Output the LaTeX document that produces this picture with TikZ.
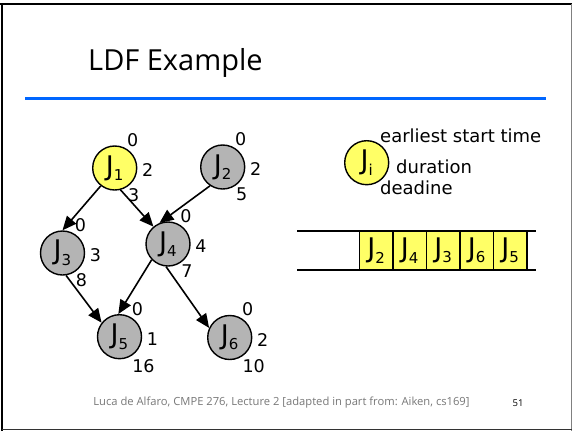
\documentclass[tikz,border=0pt]{standalone}
\usepackage{fontspec}
\setmainfont{DejaVu Sans}
\newfontfamily\headfont{Open Sans}
\usetikzlibrary{arrows.meta,calc}
\definecolor{jobyellow}{RGB}{255,255,102}
\definecolor{jobgray}{RGB}{180,180,180}
\definecolor{titlerule}{RGB}{0,102,255}
\definecolor{footgray}{RGB}{120,120,120}
\newcommand{\jsub}[1]{J\raisebox{-5.5pt}{\fontsize{15}{15}\selectfont #1}}

\begin{document}
\begin{tikzpicture}[x=1pt,y=-1pt,
  job/.style={circle,draw,line width=1.4pt,minimum size=44pt,inner sep=0pt,
    fill=jobgray,font=\fontsize{27}{27}\selectfont},
  num/.style={font=\fontsize{17.5}{17.5}\selectfont,inner sep=0pt},
  legend/.style={font=\fontsize{18}{18}\selectfont,inner sep=0pt,anchor=west},
  dep/.style={-{Triangle[length=14pt,width=12pt]},line width=1.6pt},
  slot/.style={rectangle,draw,line width=1.3pt,fill=jobyellow,minimum width=33.5pt,
    minimum height=38pt,inner sep=0pt,font=\fontsize{27}{27}\selectfont}]

\useasboundingbox (0,0) rectangle (572,431);
\fill[white] (0,0) rectangle (572,431);

% slide frame
\draw[line width=2.5pt] (2,3) -- (2,431);
\draw[line width=2pt] (0,4.3) -- (572,4.3);
\draw[gray,line width=1pt] (571,4) -- (571,431);
\draw[black!80,line width=1.5pt] (2,429.5) -- (572,429.5);

% title and rule
\node[anchor=base west,inner sep=0pt,font=\headfont\fontsize{29}{29}\selectfont] (title) at (88,70) {LDF Example};
\draw[titlerule,line width=3pt] (25,98) -- (546,98);

% job graph
\node[job,fill=jobyellow] (J1) at (114.7,168) {\jsub{1}};
\node[job] (J2) at (222.7,167) {\jsub{2}};
\node[job] (J3) at (62.5,253) {\jsub{3}};
\node[job] (J4) at (168,244) {\jsub{4}};
\node[job] (J5) at (119.5,336.7) {\jsub{5}};
\node[job] (J6) at (229.7,337.5) {\jsub{6}};

% start time / duration / deadline of each job
\foreach \j/\s/\d/\e in {J1/0/2/3, J2/0/2/5, J3/0/3/8, J4/0/4/7}{
  \node[num] (\j s) at ($(\j)+(18,-28)$) {\s};
  \node[num] (\j d) at ($(\j)+(33,2)$) {\d};
  \node[num] (\j e) at ($(\j)+(19,27)$) {\e};
}
\foreach \j/\s/\d/\e in {J5/0/1/16, J6/0/2/10}{
  \node[num] (\j s) at ($(\j)+(18,-28)$) {\s};
  \node[num] (\j d) at ($(\j)+(33,2)$) {\d};
  \node[num] (\j e) at ($(\j)+(24,29)$) {\e};
}

% precedence edges
\draw[dep] (J1.232) -- (J3.90);
\draw[dep] (J1.-75) -- (J4.130);
\draw[dep] (J2.236) -- (J4.112);
\draw[dep] (J3.-81) -- (J5.142);
\draw[dep] (J4.-136) -- (J5.93);
\draw[dep] (J4.-95) -- (J6.155);

% legend
\node[job,fill=jobyellow] (Ji) at (366.7,162.7) {\jsub{i}};
\node[legend] (lest) at (380,136) {earliest start time};
\node[legend] (ldur) at (396,167) {duration};
\node[legend] (ldl) at (380,188) {deadine};

% schedule queue
\draw[line width=1.3pt] (297,231) coordinate (qa) -- (536,231) coordinate (qb);
\draw[line width=1.3pt] (297,270) coordinate (qc) -- (536,270) coordinate (qd);
\node[slot] (q1) at (376.1,250.5) {\jsub{2}};
\node[slot] (q2) at (409.6,250.5) {\jsub{4}};
\node[slot] (q3) at (443.1,250.5) {\jsub{3}};
\node[slot] (q4) at (476.6,250.5) {\jsub{6}};
\node[slot] (q5) at (510.1,250.5) {\jsub{5}};

% footer
\node[inner sep=0pt,text=footgray,font=\headfont\fontsize{11.2}{11.2}\selectfont] (foot) at (281.5,403)
  {Luca de Alfaro, CMPE 276, Lecture 2 [adapted in part from: Aiken, cs169]};
\node[inner sep=0pt,font=\headfont\fontsize{9.5}{9.5}\selectfont] (page) at (518,403) {51};
\end{tikzpicture}
\end{document}
